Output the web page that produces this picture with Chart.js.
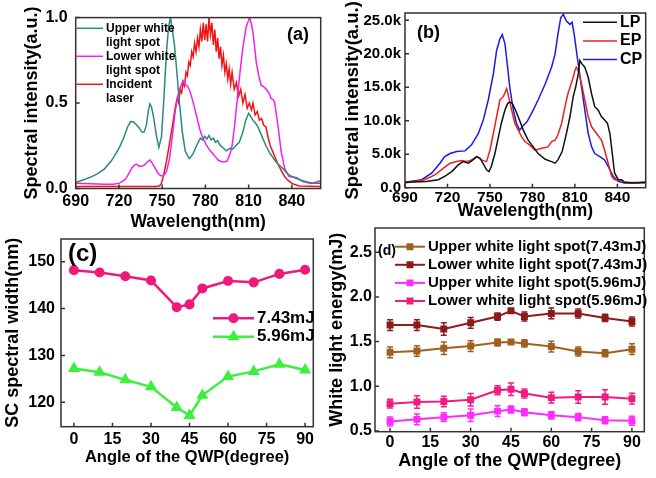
<!DOCTYPE html>
<html><head><meta charset="utf-8">
<script src="https://cdn.jsdelivr.net/npm/chart.js@4.4.0/dist/chart.umd.min.js"></script>
<style>
html,body{margin:0;padding:0;background:#fff;width:656px;height:478px;overflow:hidden}
canvas{position:absolute;left:0;top:0}
</style></head><body>
<canvas id="ca" width="656" height="478"></canvas>
<canvas id="cb" width="656" height="478"></canvas>
<canvas id="cc" width="656" height="478"></canvas>
<canvas id="cd" width="656" height="478"></canvas>
<script>
// ---------------- DATA ----------------
// Panel (a): normalized spectra [wavelength nm, intensity]
const aUpper = [[690,0.035],[695,0.05],[700,0.065],[705,0.085],[710,0.115],[715,0.165],[720,0.235],[723,0.29],[726,0.36],[728,0.39],[730,0.39],[732,0.375],[734,0.355],[736,0.33],[737.5,0.33],[739,0.37],[740.5,0.46],[741.5,0.495],[742.5,0.48],[744,0.42],[746,0.31],[747.7,0.24],[749.5,0.30],[751,0.50],[753,0.80],[754.5,0.95],[755.8,1.0],[757,0.93],[758.5,0.84],[760,0.70],[762,0.50],[764,0.33],[766,0.22],[768.7,0.175],[770,0.185],[771.5,0.205],[773,0.235],[775,0.27],[776.5,0.295],[778,0.285],[779.5,0.305],[781,0.29],[782.5,0.31],[784,0.285],[785.5,0.295],[787,0.27],[788.5,0.28],[790,0.255],[792,0.24],[794.5,0.22],[797,0.235],[799,0.23],[801,0.25],[803.5,0.27],[806,0.33],[808,0.40],[810,0.44],[811.5,0.42],[813,0.40],[815,0.38],[816.5,0.36],[818,0.33],[820,0.29],[822,0.25],[824.5,0.21],[827,0.18],[829,0.155],[831.5,0.135],[834,0.115],[836,0.095],[838,0.08],[840,0.07],[843,0.06],[846,0.05],[850,0.04],[855,0.03],[860,0.03]];
const aLower = [[690,0.03],[700,0.028],[710,0.025],[716,0.025],[720,0.03],[723,0.045],[725,0.06],[727,0.09],[729,0.12],[731,0.14],[732.5,0.142],[734,0.13],[736,0.13],[738,0.14],[740,0.158],[741.5,0.167],[743,0.15],[745,0.12],[747,0.09],[749,0.075],[751,0.076],[753,0.10],[755,0.17],[757,0.30],[759,0.45],[761,0.545],[763,0.60],[764.5,0.632],[766,0.61],[767.5,0.60],[769,0.575],[771,0.52],[772.6,0.467],[774,0.42],[776,0.35],[778,0.30],[780.7,0.254],[783,0.225],[785,0.205],[787,0.185],[789,0.165],[791,0.158],[793,0.155],[795,0.16],[797,0.20],[798.5,0.25],[800.3,0.37],[802.6,0.564],[804,0.68],[805.6,0.796],[807,0.88],[808.4,0.95],[810.7,1.0],[812,0.96],[813,0.913],[814,0.84],[815.3,0.738],[817,0.66],[818.8,0.603],[820.5,0.595],[822,0.583],[824,0.56],[825.7,0.525],[827,0.52],[828,0.506],[830.3,0.37],[832.6,0.215],[835,0.118],[838,0.07],[840,0.068],[843,0.065],[847.6,0.04],[853,0.03],[856,0.035],[860,0.045]];
const aLaser = [[690,0.012],[720,0.012],[745,0.012],[748,0.015],[749.5,0.03],[751,0.08],[753,0.16],[755,0.26],[757,0.36],[759,0.47],[760.5,0.53],[761.5,0.50],[762.5,0.58],[763.5,0.56],[764.5,0.62],[765.5,0.60],[766.5,0.68],[767.5,0.66],[768.5,0.74],[769.5,0.72],[770.5,0.80],[771.5,0.77],[772.5,0.85],[773.5,0.80],[774.5,0.88],[775.5,0.83],[776.5,0.93],[777.5,0.86],[778.5,0.97],[779.5,0.87],[780.5,0.96],[781.5,0.86],[782.5,1.0],[783.5,0.90],[784.5,0.97],[785.5,0.84],[786.5,0.93],[787.5,0.80],[788.5,0.88],[789.5,0.76],[790.5,0.83],[791.5,0.72],[792.5,0.78],[793.5,0.68],[794.5,0.73],[795.5,0.64],[796.5,0.70],[797.5,0.61],[798.5,0.68],[800,0.58],[801.5,0.62],[803,0.54],[804.5,0.58],[806,0.50],[807.5,0.55],[809,0.47],[810.5,0.50],[812,0.46],[813,0.50],[814.5,0.43],[816,0.45],[817.5,0.40],[819,0.41],[820.5,0.37],[822,0.36],[823.5,0.30],[825,0.25],[827,0.21],[829,0.17],[831,0.13],[833,0.10],[835,0.07],[837,0.05],[840,0.03],[845,0.015],[860,0.012]];
const aLabels = ['Upper white light spot','Lower white light spot','Incident laser'];
const aLegendLines = [['Upper white','light spot'],['Lower white','light spot'],['Incident','laser']];
const aXTicks = [690,720,750,780,810,840];
const aYTicks = [0,0.5,1.0];
const aYTickLabels = ['0.0','0.5','1.0'];

// Panel (b): spectra in counts [wavelength nm, intensity]
const bLP = [[690,800],[700,900],[705,940],[713.5,1200],[718,1700],[723,2400],[727.6,3400],[731,3900],[734.7,3660],[738,4150],[740.6,4650],[743,4400],[745,3660],[747.6,2670],[749.3,2400],[751,3200],[753.5,5100],[756,7600],[758,9600],[760.6,11600],[762.5,12600],[764,12800],[765.8,12600],[768,11600],[770.5,10300],[773.5,8600],[777,7100],[780.6,6100],[784,5100],[789,4250],[793.5,3900],[796,3660],[798,4150],[801,5400],[804,8100],[806.5,10600],[808.8,13600],[810.5,15000],[812.4,17000],[813.5,19000],[815,18500],[817,18000],[819.4,16500],[821.8,14000],[824,12100],[826.4,11600],[828.8,10600],[831,10100],[833,9600],[834.7,8100],[836.4,5100],[838,2200],[840.6,1200],[843,1200],[845,800],[850,700],[855,750],[860,800]];
const bEP = [[690,700],[704,1200],[711,1900],[717,2900],[721.8,3660],[726.5,3900],[730,4050],[733.5,3900],[737,4150],[740.6,4650],[744,4150],[747.6,3900],[750,5600],[752.4,8100],[754.7,10600],[757,13100],[759.4,13600],[761.8,14800],[763,13800],[765.3,11600],[767.6,9600],[770,8600],[772.4,7600],[774.7,6900],[778,6400],[781.8,5600],[786.5,5900],[791,6100],[793.5,6900],[796,7100],[798,7900],[800.6,9600],[803,12100],[805,14000],[807,15300],[808.8,16500],[810,17500],[811,18000],[812.8,17300],[814.7,15500],[817,13100],[819.4,10600],[821.8,9100],[825.3,8100],[828.8,7100],[831,5600],[833.5,3660],[836,1700],[838,1200],[841.8,1200],[845,800],[860,700]];
const bCP = [[690,800],[701.8,1200],[709,2200],[714.7,3660],[718,4650],[721.8,5100],[726.5,5400],[732.4,5500],[737,6400],[741.8,8100],[745.3,10100],[748.8,13100],[752.4,17000],[754.7,20500],[757,22200],[758.7,22900],[760.6,21500],[762.5,18000],[764,15000],[766.5,11600],[768.8,9600],[771,8600],[773.5,9300],[776,9800],[779.4,11100],[784,13100],[789,15500],[793.5,18000],[796,20000],[798,22900],[800,25400],[801.8,25900],[804,24900],[806.5,24400],[808,24700],[809.5,22900],[812,19000],[814.7,15000],[817,11600],[819.4,8100],[821.8,6100],[824,5100],[827.6,4650],[831,4150],[834.7,2700],[837,1700],[840.6,940],[845,700],[860,800]];
const bLabels = ['LP','EP','CP'];
const bXTicks = [690,720,750,780,810,840];
const bYTicks = [0,5000,10000,15000,20000,25000];
const bYTickLabels = ['0.0','5.0k','10.0k','15.0k','20.0k','25.0k'];

// Panel (c): SC spectral width vs QWP angle
const cAngles = [0,10,20,30,40,45,50,60,70,80,90];
const c743 = [148.2,147.7,146.9,146.0,140.3,140.9,144.3,145.9,145.6,147.4,148.3];
const c596 = [127.2,126.4,124.8,123.3,118.9,117.2,121.5,125.5,126.6,128.1,126.9];
const cLabels = ['7.43mJ','5.96mJ'];
const cXTicks = [0,15,30,45,60,75,90];
const cYTicks = [120,130,140,150];

// Panel (d): white light energy vs QWP angle (with error bars)
const dAngles = [0,10,20,30,40,45,50,60,70,80,90];
const dUpper743 = [1.38,1.395,1.425,1.45,1.49,1.495,1.48,1.445,1.39,1.37,1.415];
const dLower743 = [1.685,1.685,1.64,1.71,1.78,1.845,1.78,1.815,1.815,1.765,1.725];
const dUpper596 = [0.607,0.63,0.655,0.675,0.722,0.74,0.71,0.675,0.655,0.62,0.615];
const dLower596 = [0.806,0.824,0.83,0.85,0.955,0.966,0.92,0.873,0.88,0.88,0.862];
const dErrUpper743 = [0.06,0.06,0.07,0.06,0.04,0.01,0.04,0.06,0.05,0.04,0.06];
const dErrLower743 = [0.06,0.06,0.07,0.06,0.04,0.02,0.05,0.06,0.05,0.04,0.05];
const dErrUpper596 = [0.05,0.06,0.05,0.07,0.06,0.04,0.04,0.04,0.04,0.04,0.05];
const dErrLower596 = [0.05,0.07,0.06,0.07,0.05,0.07,0.05,0.06,0.07,0.08,0.06];
const dLabels = ['Upper white light spot(7.43mJ)','Lower white light spot(7.43mJ)','Upper white light spot(5.96mJ)','Lower white light spot(5.96mJ)'];
const dXTicks = [0,15,30,45,60,75,90];
const dYTicks = [0.5,1.0,1.5,2.0,2.5];
const dYTickLabels = ['0.5','1.0','1.5','2.0','2.5'];

// ---------------- RENDERING ----------------
const FONT = "'Liberation Sans', Arial, Helvetica, sans-serif";
Chart.defaults.font.family = FONT;
Chart.defaults.font.weight = 'bold';
Chart.defaults.color = '#000';

const pairs = arr => arr.map(p => ({x: p[0], y: p[1]}));
const zipXY = (xs, ys) => xs.map((x, i) => ({x, y: ys[i]}));

const panelPlugin = {
  id: 'panelDeco',
  afterDatasetsDraw(chart) {
    const ctx = chart.ctx;
    chart.data.datasets.forEach((ds, di) => {
      if (!ds.errorBars) return;
      const meta = chart.getDatasetMeta(di);
      const ys = chart.scales.y;
      ctx.save();
      ctx.strokeStyle = ds.borderColor;
      ctx.lineWidth = 1.5;
      meta.data.forEach((pt, i) => {
        const v = ds.data[i].y, e = ds.errorBars[i];
        const y1 = ys.getPixelForValue(v + e), y2 = ys.getPixelForValue(v - e);
        ctx.beginPath();
        ctx.moveTo(pt.x, y1); ctx.lineTo(pt.x, y2);
        ctx.moveTo(pt.x - 3, y1); ctx.lineTo(pt.x + 3, y1);
        ctx.moveTo(pt.x - 3, y2); ctx.lineTo(pt.x + 3, y2);
        ctx.stroke();
      });
      ctx.restore();
    });
  },
  afterDraw(chart) {
    const ctx = chart.ctx, a = chart.chartArea;
    const deco = chart.options.plugins.panelDeco;
    ctx.save();
    // frame
    ctx.strokeStyle = '#333';
    ctx.lineWidth = 1.5;
    ctx.strokeRect(a.left, a.top, a.right - a.left, a.bottom - a.top);
    // inward ticks
    ctx.beginPath();
    chart.scales.x.ticks.forEach(t => {
      const px = chart.scales.x.getPixelForValue(t.value);
      ctx.moveTo(px, a.bottom); ctx.lineTo(px, a.bottom - 4);
    });
    chart.scales.y.ticks.forEach(t => {
      const py = chart.scales.y.getPixelForValue(t.value);
      ctx.moveTo(a.left, py); ctx.lineTo(a.left + 4, py);
    });
    ctx.stroke();
    // panel tag
    ctx.fillStyle = '#000';
    ctx.textBaseline = 'middle';
    ctx.textAlign = 'left';
    ctx.font = 'bold ' + deco.tag.size + 'px ' + FONT;
    ctx.fillText(deco.tag.text, deco.tag.x, deco.tag.y);
    // legend
    const L = deco.legend;
    ctx.font = 'bold ' + L.size + 'px ' + FONT;
    L.items.forEach((it, i) => {
      const ds = chart.data.datasets[it.ds];
      const y = L.y0 + i * L.dy;
      ctx.strokeStyle = ds.borderColor;
      ctx.lineWidth = ds.borderWidth;
      ctx.beginPath(); ctx.moveTo(L.x1, y); ctx.lineTo(L.x2, y); ctx.stroke();
      if (ds.pointRadius > 0) {
        ctx.fillStyle = ds.borderColor;
        ctx.strokeStyle = ds.borderColor;
        Chart.helpers.drawPoint(ctx, {pointStyle: ds.pointStyle, radius: ds.pointRadius, rotation: 0, borderWidth: 1}, (L.x1 + L.x2) / 2, y);
      }
      ctx.fillStyle = '#000';
      const lines = it.lines || [ds.label];
      lines.forEach((t, k) => ctx.fillText(t, L.tx, y + k * (L.lh || 0)));
    });
    ctx.restore();
  }
};

function buildPanel(id, s, datasets) {
  const yLH = s.yTitleSize * 1.2, xLH = s.xTitleSize * 1.2;
  const padL = s.yTitleCx - yLH / 2;
  const xBottom = s.xTitleCy + xLH / 2;
  return new Chart(document.getElementById(id), {
    type: 'line',
    data: {datasets},
    options: {
      responsive: false, animation: false, devicePixelRatio: 1,
      layout: {padding: {left: padL, top: s.t, right: 656 - s.r, bottom: 478 - xBottom}},
      plugins: {legend: {display: false}, tooltip: {enabled: false}, panelDeco: s.deco},
      elements: {line: {tension: 0}},
      scales: {
        x: {
          type: 'linear', position: 'bottom', min: s.xmin, max: s.xmax,
          afterBuildTicks: sc => { sc.ticks = s.xTicks.map(v => ({value: v})); },
          afterFit: sc => { sc.height = xBottom - s.b; },
          grid: {display: false, drawTicks: false}, border: {display: false},
          ticks: {autoSkip: false, maxRotation: 0, minRotation: 0, padding: s.xTickPad,
                  font: {size: s.xTickSize, weight: 'bold'}, color: '#000',
                  callback: (v) => String(v)},
          title: {display: true, text: s.xTitle, font: {size: s.xTitleSize, weight: 'bold'}, padding: 0, color: '#000'}
        },
        y: {
          type: 'linear', position: 'left', min: s.ymin, max: s.ymax,
          afterBuildTicks: sc => { sc.ticks = s.yTicks.map(v => ({value: v})); },
          afterFit: sc => { sc.width = s.l - padL; },
          grid: {display: false, drawTicks: false}, border: {display: false},
          ticks: {autoSkip: false, padding: s.yTickPad,
                  font: {size: s.yTickSize, weight: 'bold'}, color: '#000',
                  callback: (v, i) => s.yTickLabels ? s.yTickLabels[i] : String(v)},
          title: {display: true, text: s.yTitle, font: {size: s.yTitleSize, weight: 'bold'}, padding: 0, color: '#000'}
        }
      }
    },
    plugins: [panelPlugin]
  });
}

const lineDs = (label, data, color, w) => ({label, data, borderColor: color, backgroundColor: color, borderWidth: w, pointRadius: 0, fill: false});

// (a)
buildPanel('ca', {
  l: 75.7, r: 320.7, t: 15.5, b: 188.5,
  xmin: 690, xmax: 860, ymin: 0, ymax: 1,
  xTicks: aXTicks, yTicks: aYTicks, yTickLabels: aYTickLabels,
  xTitle: 'Wavelength(nm)', yTitle: 'Spectral intensity(a.u.)',
  yTitleCx: 32, yTitleSize: 18, xTitleCy: 222, xTitleSize: 17.5,
  xTickSize: 16, yTickSize: 16, xTickPad: 3.4, yTickPad: 8,
  deco: {tag: {text: '(a)', x: 287, y: 35, size: 18},
         legend: {x1: 76, x2: 103, tx: 106, y0: 28.3, dy: 28, lh: 14, size: 12,
                  items: [{ds: 0, lines: aLegendLines[0]}, {ds: 1, lines: aLegendLines[1]}, {ds: 2, lines: aLegendLines[2]}]}}
}, [
  lineDs(aLabels[0], pairs(aUpper), '#2A8A80', 1.5),
  lineDs(aLabels[1], pairs(aLower), '#F020F0', 1.5),
  lineDs(aLabels[2], pairs(aLaser), '#F01414', 1.5)
]);

// (b)
buildPanel('cb', {
  l: 405, r: 645.7, t: 11.7, b: 187.7,
  xmin: 690, xmax: 860, ymin: 0, ymax: 26100,
  xTicks: bXTicks, yTicks: bYTicks, yTickLabels: bYTickLabels,
  xTitle: 'Wavelength(nm)', yTitle: 'Spectral intensity(a.u.)',
  yTitleCx: 353, yTitleSize: 18.5, xTitleCy: 211, xTitleSize: 17.5,
  xTickSize: 15.5, yTickSize: 15, xTickPad: 1, yTickPad: 4,
  deco: {tag: {text: '(b)', x: 417, y: 33, size: 18},
         legend: {x1: 583, x2: 617, tx: 620, y0: 22.3, dy: 18.6, size: 16,
                  items: [{ds: 0}, {ds: 1}, {ds: 2}]}}
}, [
  lineDs(bLabels[0], pairs(bLP), '#111111', 1.5),
  lineDs(bLabels[1], pairs(bEP), '#E8231F', 1.5),
  lineDs(bLabels[2], pairs(bCP), '#1A1AE6', 1.5)
]);

// (c)
buildPanel('cc', {
  l: 61, r: 313.3, t: 239, b: 426.7,
  xmin: -5.05, xmax: 93.2, ymin: 114.8, ymax: 154.85,
  xTicks: cXTicks, yTicks: cYTicks,
  xTitle: 'Angle of the QWP(degree)', yTitle: 'SC spectral width(nm)',
  yTitleCx: 13.5, yTitleSize: 18, xTitleCy: 457, xTitleSize: 16.5,
  xTickSize: 16, yTickSize: 16, xTickPad: 3.7, yTickPad: 6,
  deco: {tag: {text: '(c)', x: 68, y: 254, size: 24},
         legend: {x1: 213, x2: 254, tx: 257, y0: 318.3, dy: 18.4, size: 17,
                  items: [{ds: 0}, {ds: 1}]}}
}, [
  {label: cLabels[0], data: zipXY(cAngles, c743), borderColor: '#EE1A7A', backgroundColor: '#EE1A7A', borderWidth: 2.5, pointStyle: 'circle', pointRadius: 3.8},
  {label: cLabels[1], data: zipXY(cAngles, c596), borderColor: '#3CF03C', backgroundColor: '#3CF03C', borderWidth: 2.5, pointStyle: 'triangle', pointRadius: 4.5}
]);

// (d)
buildPanel('cd', {
  l: 375, r: 644.3, t: 228, b: 431.7,
  xmin: -5.6, xmax: 94.6, ymin: 0.492, ymax: 2.771,
  xTicks: dXTicks, yTicks: dYTicks, yTickLabels: dYTickLabels,
  xTitle: 'Angle of the QWP(degree)', yTitle: 'White light energy(mJ)',
  yTitleCx: 336.7, yTitleSize: 18, xTitleCy: 461, xTitleSize: 18,
  xTickSize: 16, yTickSize: 16, xTickPad: 1.2, yTickPad: 3,
  deco: {tag: {text: '(d)', x: 378, y: 251, size: 14},
         legend: {x1: 395, x2: 425, tx: 428, y0: 246.7, dy: 18.1, size: 15,
                  items: [{ds: 0}, {ds: 1}, {ds: 2}, {ds: 3}]}}
}, [
  {label: dLabels[0], data: zipXY(dAngles, dUpper743), errorBars: dErrUpper743, borderColor: '#A0601E', backgroundColor: '#A0601E', borderWidth: 2, pointStyle: 'rect', pointRadius: 3.5},
  {label: dLabels[1], data: zipXY(dAngles, dLower743), errorBars: dErrLower743, borderColor: '#8E1A1A', backgroundColor: '#8E1A1A', borderWidth: 2, pointStyle: 'rect', pointRadius: 3.5},
  {label: dLabels[2], data: zipXY(dAngles, dUpper596), errorBars: dErrUpper596, borderColor: '#FF2CFF', backgroundColor: '#FF2CFF', borderWidth: 2, pointStyle: 'rect', pointRadius: 3.5},
  {label: dLabels[3], data: zipXY(dAngles, dLower596), errorBars: dErrLower596, borderColor: '#F01C80', backgroundColor: '#F01C80', borderWidth: 2, pointStyle: 'rect', pointRadius: 3.5}
]);
</script>
</body></html>
